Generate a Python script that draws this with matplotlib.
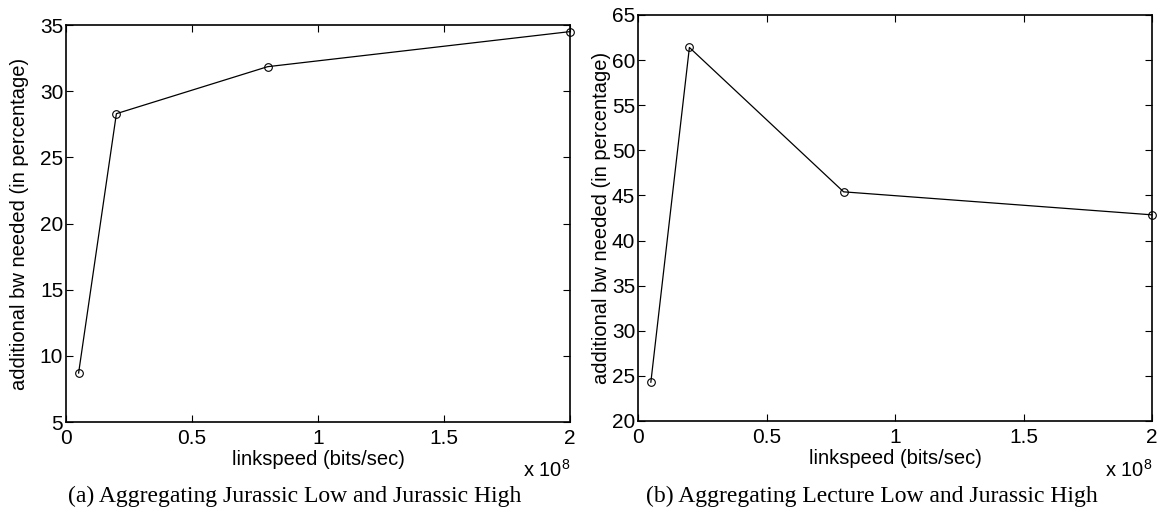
# additional bandwidth needed vs link speed, two aggregation cases
import matplotlib
matplotlib.use("Agg")
import matplotlib.pyplot as plt
from matplotlib.ticker import FuncFormatter

plt.rcParams['font.family'] = ['Liberation Sans', 'DejaVu Sans']
plt.rcParams['mathtext.fontset'] = 'custom'
plt.rcParams['mathtext.rm'] = 'Liberation Sans'

# data
linkspeed = [0.05e8, 0.2e8, 0.8e8, 2.0e8]
bw_jurassic = [8.7, 28.3, 31.85, 34.5]
bw_lecture = [24.3, 61.4, 45.4, 42.85]

xticks = [0, 0.5e8, 1e8, 1.5e8, 2e8]
yticks_a = [5, 10, 15, 20, 25, 30, 35]
yticks_b = [20, 25, 30, 35, 40, 45, 50, 55, 60, 65]
captions = ["(a) Aggregating Jurassic Low and Jurassic High",
            "(b) Aggregating Lecture Low and Jurassic High"]

W, H = 1161, 523
fig = plt.figure(figsize=(W / 100, H / 100), dpi=100)

ax1 = fig.add_axes([66 / W, 1 - 422 / H, (570 - 66) / W, (422 - 25) / H])
ax2 = fig.add_axes([638 / W, 1 - 421 / H, (1152 - 638) / W, (421 - 15) / H])

fmt = FuncFormatter(lambda v, p: '%g' % (v / 1e8))

for ax, ys, yt, cap, ylab_x in [(ax1, bw_jurassic, yticks_a, captions[0], -0.074),
                                (ax2, bw_lecture, yticks_b, captions[1], -0.052)]:
    ax.plot(linkspeed, ys, color='black', lw=0.9, marker='o', ms=5.5,
            mfc='none', mec='black', mew=0.8, clip_on=False)
    ax.set_xlim(0, 2e8)
    ax.set_ylim(yt[0], yt[-1])
    ax.set_xticks(xticks)
    ax.set_yticks(yt)
    ax.xaxis.set_major_formatter(fmt)
    ax.tick_params(direction='in', length=5, width=0.8, top=True, right=True,
                   labelsize=15)
    ax.tick_params(axis='x', pad=5)
    ax.tick_params(axis='y', pad=2)
    for s in ax.spines.values():
        s.set_linewidth(1.2)
    ax.set_xlabel('linkspeed (bits/sec)', fontsize=14.5)
    ax.xaxis.set_label_coords(0.5, -0.07)
    ax.set_ylabel('additional bw needed (in percentage)', fontsize=14.5)
    ax.yaxis.set_label_coords(ylab_x, 0.5)
    ax.text(1.0, -0.138, r'x 10$^{8}$', transform=ax.transAxes, ha='right',
            va='baseline', fontsize=14.5)
    pos = ax.get_position()
    fig.text((pos.x0 + pos.x1) / 2 - 0.02, 1 - 496 / H, cap, ha='center', va='center',
             fontsize=17, family=['Liberation Serif', 'DejaVu Serif'])

fig.savefig('out.png', dpi=100)
